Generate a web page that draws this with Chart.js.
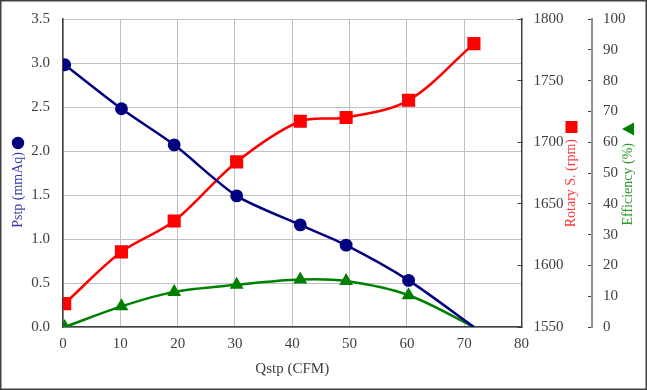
<!DOCTYPE html>
<html>
<head>
<meta charset="utf-8">
<script src="https://cdn.jsdelivr.net/npm/chart.js@4.4.0/dist/chart.umd.min.js"></script>
<style>
  html, body { margin: 0; padding: 0; background: #fff; }
  #wrap { width: 647px; height: 390px; position: relative; }
</style>
</head>
<body>
<div id="wrap"><canvas id="fanChart" width="647" height="390"></canvas></div>
<script>
// Flow rate (CFM) for each measured point
const qstp = [0.3, 10.2, 19.4, 30.3, 41.4, 49.4, 60.3, 71.7];
// Static pressure (mmAq)
const pstp = [2.98, 2.48, 2.07, 1.49, 1.16, 0.93, 0.53, 0];
// Rotary speed (rpm)
const rpm = [1569, 1611, 1636, 1684, 1717, 1720, 1734, 1780];
// Efficiency (%)
const efficiency = [0, 6.7, 11.4, 13.7, 15.4, 14.9, 10.3, 0];

// Axis ticks
const xTicks = [0, 10, 20, 30, 40, 50, 60, 70, 80];
const pstpTicks = [0, 0.5, 1, 1.5, 2, 2.5, 3, 3.5];
const rpmTicks = [1550, 1600, 1650, 1700, 1750, 1800];
const effTicks = [0, 10, 20, 30, 40, 50, 60, 70, 80, 90, 100];

const FONT = '"Liberation Serif", "Times New Roman", serif';
const tickFont = { family: FONT, size: 15 };

function pairs(ys) {
  return qstp.map((x, i) => ({ x: x, y: ys[i] }));
}

// Last point of pressure / efficiency has no marker
const hideLast = n => qstp.map((_, i) => (i === qstp.length - 1 ? 0 : n));

// fixed widths for the vertical axes, no extra overflow padding
function fixWidth(w) {
  return function(s) {
    s.width = w;
    s.paddingTop = 0;
    s.paddingBottom = 0;
  };
}

// Vertical titles with a marker, border round the whole picture
const extrasPlugin = {
  id: 'extras',
  afterDraw(chart) {
    const ctx = chart.ctx;

    function vTitle(cx, endY, text, color) {
      ctx.save();
      ctx.translate(cx, endY);
      ctx.rotate(-Math.PI / 2);
      ctx.font = '14px ' + FONT;
      ctx.fillStyle = color;
      ctx.textAlign = 'right';
      ctx.textBaseline = 'middle';
      ctx.fillText(text, 0, 0);
      ctx.restore();
    }

    vTitle(18, 152, 'Pstp (mmAq)', '#3a3aa8');
    vTitle(571.5, 139, 'Rotary S. (rpm)', '#ff3b3b');
    vTitle(628, 143, 'Efficiency (%)', '#2f9a2f');

    ctx.save();
    // circle
    ctx.fillStyle = '#000080';
    ctx.beginPath();
    ctx.arc(18, 143, 6.2, 0, Math.PI * 2);
    ctx.fill();
    // square
    ctx.fillStyle = '#ff0000';
    ctx.fillRect(565.5, 121, 12, 12);
    // triangle
    ctx.fillStyle = '#008000';
    ctx.beginPath();
    ctx.moveTo(622, 129);
    ctx.lineTo(634, 122.5);
    ctx.lineTo(634, 135.5);
    ctx.closePath();
    ctx.fill();

    // outer frame
    ctx.strokeStyle = '#404040';
    ctx.lineWidth = 1.5;
    ctx.strokeRect(0.75, 0.75, chart.width - 1.5, chart.height - 1.5);
    ctx.restore();
  }
};

document.addEventListener('DOMContentLoaded', function() {
  const ctx = document.getElementById('fanChart').getContext('2d');

  new Chart(ctx, {
    type: 'line',
    data: {
      datasets: [
        {
          label: 'Pstp',
          data: pairs(pstp),
          yAxisID: 'y',
          borderColor: '#000080',
          backgroundColor: '#000080',
          borderWidth: 2.5,
          pointStyle: 'circle',
          pointRadius: hideLast(5.2),
          tension: 0.25
        },
        {
          label: 'Rotary S.',
          data: pairs(rpm),
          yAxisID: 'y1',
          borderColor: '#ff0000',
          backgroundColor: '#ff0000',
          borderWidth: 2.5,
          pointStyle: 'rect',
          pointRadius: 7.5,
          tension: 0.33
        },
        {
          label: 'Efficiency',
          data: pairs(efficiency),
          yAxisID: 'y2',
          borderColor: '#008000',
          backgroundColor: '#008000',
          borderWidth: 2.5,
          pointStyle: 'triangle',
          pointRadius: hideLast(5.5),
          tension: 0.33
        }
      ]
    },
    options: {
      responsive: false,
      animation: false,
      layout: { padding: { top: 19, left: 0, right: 0, bottom: 0 } },
      plugins: {
        legend: { display: false },
        tooltip: { enabled: false }
      },
      scales: {
        x: {
          type: 'linear',
          min: 0,
          max: 80,
          afterBuildTicks: s => { s.ticks = xTicks.map(v => ({ value: v })); },
          afterFit: s => { s.height = 63; s.paddingLeft = 0; s.paddingRight = 0; },
          ticks: { font: tickFont, color: '#404040', padding: 8, callback: v => String(v) },
          grid: { color: '#c0c0c0', lineWidth: 1, drawTicks: false },
          border: { color: '#404040', width: 1.5 },
          title: {
            display: true,
            text: 'Qstp (CFM)',
            color: '#404040',
            font: { family: FONT, size: 15 },
            padding: 12
          }
        },
        y: {
          position: 'left',
          min: 0,
          max: 3.5,
          afterBuildTicks: s => { s.ticks = pstpTicks.map(v => ({ value: v })); },
          afterFit: fixWidth(63),
          ticks: {
            font: tickFont,
            color: '#404040',
            padding: 13,
            callback: v => v.toFixed(1)
          },
          grid: { color: '#c0c0c0', lineWidth: 1, drawTicks: false },
          border: { color: '#404040', width: 1.5 }
        },
        y1: {
          position: 'right',
          min: 1550,
          max: 1800,
          afterBuildTicks: s => { s.ticks = rpmTicks.map(v => ({ value: v })); },
          afterFit: fixWidth(70.5),
          ticks: { font: tickFont, color: '#404040', padding: 16, callback: v => String(v) },
          grid: {
            drawOnChartArea: false,
            drawTicks: true,
            tickLength: -4,
            tickColor: '#404040'
          },
          border: { color: '#404040', width: 1.5 }
        },
        y2: {
          position: 'right',
          min: 0,
          max: 100,
          afterBuildTicks: s => { s.ticks = effTicks.map(v => ({ value: v })); },
          afterFit: fixWidth(55),
          ticks: { font: tickFont, color: '#404040', padding: 15, callback: v => String(v) },
          grid: {
            drawOnChartArea: false,
            drawTicks: true,
            tickLength: -4,
            tickColor: '#404040'
          },
          border: { color: '#909090', width: 2 }
        }
      }
    },
    plugins: [extrasPlugin]
  });
});
</script>
</body>
</html>
